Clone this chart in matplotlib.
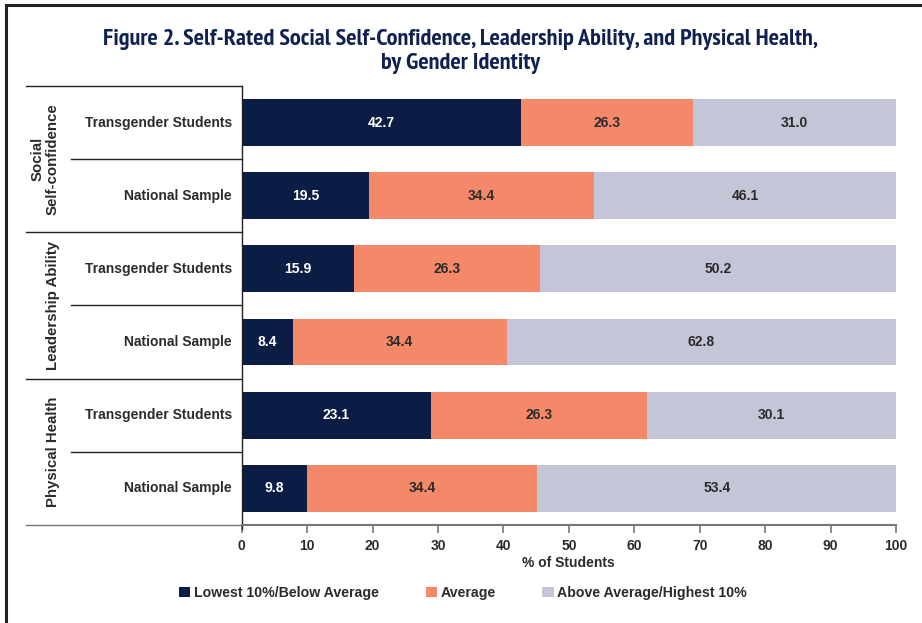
import matplotlib
matplotlib.use('Agg')
import matplotlib.pyplot as plt
from matplotlib import font_manager
from matplotlib.patches import Patch
import numpy as np

# data ------------------------------------------------------------
rows = ['Transgender Students', 'National Sample',
        'Transgender Students', 'National Sample',
        'Transgender Students', 'National Sample']
groups = ['Social\nSelf-confidence', 'Leadership Ability', 'Physical Health']
series = ['Lowest 10%/Below Average', 'Average', 'Above Average/Highest 10%']

# bar lengths as drawn in the figure
low = [42.7, 19.5, 17.2, 7.8, 28.9, 10.0]
avg = [26.3, 34.4, 28.4, 32.7, 33.1, 35.2]
high = [31.0, 46.1, 54.4, 59.5, 38.0, 54.8]

# printed values
low_lab = ['42.7', '19.5', '15.9', '8.4', '23.1', '9.8']
avg_lab = ['26.3', '34.4', '26.3', '34.4', '26.3', '34.4']
high_lab = ['31.0', '46.1', '50.2', '62.8', '30.1', '53.4']

xticks = [0, 10, 20, 30, 40, 50, 60, 70, 80, 90, 100]

# style -----------------------------------------------------------
c_dark = '#0b1c45'
c_orange = '#f38968'
c_grey = '#c4c5d6'
c_title = '#0e2150'
c_text = '#2b2b2b'

plt.rcParams['font.family'] = ['Liberation Sans', 'DejaVu Sans']
plt.rcParams['font.weight'] = 'bold'

# condensed face for the title if one is around, else plain Liberation
title_font = {'family': ['Liberation Sans', 'DejaVu Sans'], 'size': 12.7}
for f in font_manager.fontManager.ttflist:
    if 'Narrow' in f.name and f.weight in ('bold', 700):
        title_font = {'family': [f.name, 'DejaVu Sans'], 'size': 17.5}
        break

fig = plt.figure(figsize=(9.22, 6.23), dpi=100)
ax = fig.add_axes([0.2621, 0.1573, 0.7097, 0.7047])

y = np.arange(len(rows))
h = 0.64
left2 = np.array(low)
left3 = left2 + np.array(avg)
ax.barh(y, low, height=h, color=c_dark)
ax.barh(y, avg, left=left2, height=h, color=c_orange)
ax.barh(y, high, left=left3, height=h, color=c_grey)

for i in range(len(rows)):
    ax.text(low[i] / 2, i, low_lab[i], color='white', ha='center', va='center',
            fontsize=10, fontweight='bold')
    ax.text(left2[i] + avg[i] / 2, i, avg_lab[i], color=c_text, ha='center',
            va='center', fontsize=10, fontweight='bold')
    ax.text(left3[i] + high[i] / 2, i, high_lab[i], color=c_text, ha='center',
            va='center', fontsize=10, fontweight='bold')

ax.set_xlim(0, 100)
ax.set_ylim(len(rows) - 0.5, -0.5)
ax.set_xticks(xticks)
ax.set_xticklabels([str(t) for t in xticks], fontsize=10, fontweight='bold',
                   color=c_text)
ax.tick_params(axis='x', length=6, width=1.2, color='#777777', pad=4)
ax.set_yticks([])
ax.set_xlabel('% of Students', fontsize=10, fontweight='bold', color=c_text,
              labelpad=2)

for s in ['top', 'right']:
    ax.spines[s].set_visible(False)
ax.spines['bottom'].set_color('#777777')
ax.spines['bottom'].set_linewidth(1.5)
ax.spines['left'].set_color('#222222')
ax.spines['left'].set_linewidth(1.0)
# the y axis line pokes a little below the x axis
ax.plot([0, 0], [5.5, 5.56], color='#222222', lw=1.0, clip_on=False)

# left labels and separators
tr = ax.get_yaxis_transform()
for i, r in enumerate(rows):
    ax.text(-0.0148, i, r, transform=tr, ha='right', va='center',
            fontsize=10, fontweight='bold', color=c_text)

for k in range(len(rows) + 1):
    yy = k - 0.5
    x0 = -0.330 if k % 2 == 0 else -0.261
    col = '#777777' if k == len(rows) else '#222222'
    ax.plot([x0, 0], [yy, yy], transform=tr, color=col, lw=1.0, clip_on=False)

gx = [-0.300, -0.2884, -0.2884]
for g, lab in enumerate(groups):
    ax.text(gx[g], 2 * g + 0.5, lab, transform=tr, rotation=90, ha='center',
            va='center', fontsize=10.8, fontweight='bold', color=c_text,
            multialignment='center', linespacing=1.1)

# title
fig.text(0.5, 1 - 40 / 623, 'Figure 2. Self-Rated Social Self-Confidence, Leadership Ability, and Physical Health,',
         ha='center', va='center', fontweight='bold', color=c_title, **title_font)
fig.text(0.5, 1 - 63 / 623, 'by Gender Identity', ha='center', va='center',
         fontweight='bold', color=c_title, **title_font)

# legend
handles = [Patch(facecolor=c, edgecolor='none') for c in [c_dark, c_orange, c_grey]]
fig.legend(handles, series, loc='center', bbox_to_anchor=(463 / 922, 1 - 593 / 623),
           ncol=3, frameon=False, handlelength=0.8, handleheight=0.8,
           handletextpad=0.25, columnspacing=3.3, labelcolor=c_text,
           prop={'weight': 'bold', 'size': 10.2})

# frame around the figure (only top and left visible)
fig.add_artist(plt.Line2D([6 / 922, 6 / 922], [0, 1 - 5 / 623], color='#222222', lw=2.2))
fig.add_artist(plt.Line2D([6 / 922, 1], [1 - 5 / 623, 1 - 5 / 623], color='#222222', lw=2.2))

fig.savefig('out.png', dpi=100)
